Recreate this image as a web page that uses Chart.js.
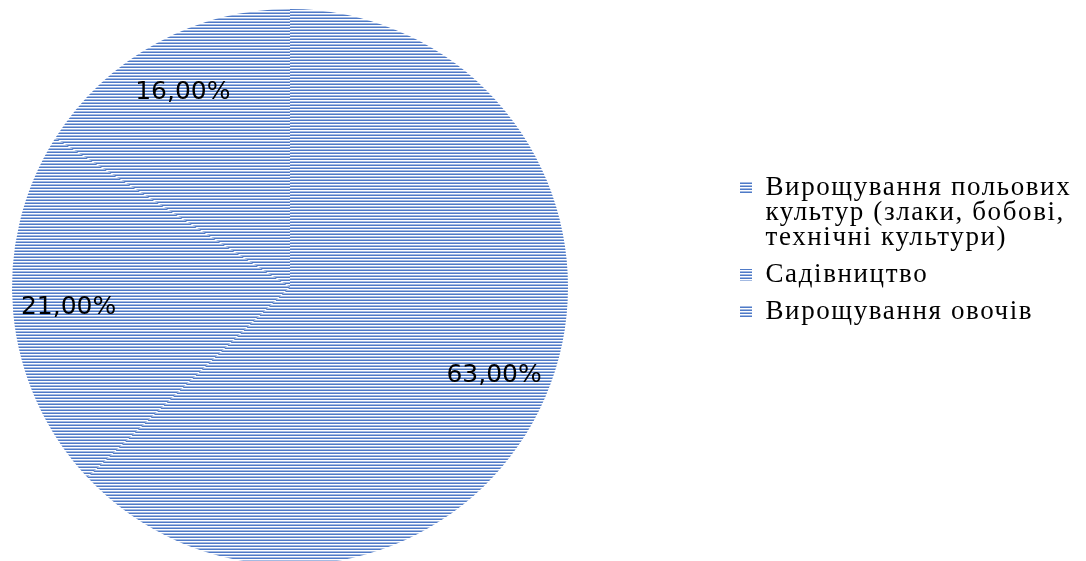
<!DOCTYPE html>
<html>
<head>
<meta charset="utf-8">
<script src="https://cdn.jsdelivr.net/npm/chart.js@4/dist/chart.umd.min.js"></script>
<style>
  html, body { margin: 0; padding: 0; overflow: hidden; background: #fff; }
  #wrap { width: 1086px; height: 566px; }
</style>
</head>
<body>
<div id="wrap"><canvas id="pie"></canvas></div>
<script>
// values
const categories = [
  ['Вирощування польових', 'культур (злаки, бобові,', 'технічні культури)'],
  ['Садівництво'],
  ['Вирощування овочів']
];
const shares = [63, 21, 16];

// striped fill, like the excel "narrow horizontal" pattern
function stripes(shift) {
  const c = document.createElement('canvas');
  c.width = 4; c.height = 3;
  const g = c.getContext('2d');
  const rows = ['#4f7ac7', '#ffffff', '#a3bae2'];
  for (let i = 0; i < 3; i++) {
    g.fillStyle = rows[(i + shift) % 3];
    g.fillRect(0, i, 4, 1);
  }
  return g.createPattern(c, 'repeat');
}
const fills = shares.map((v, i) => stripes(i));

// empty box between pie and legend, fixed legend width
const gap = {
  id: 'gap',
  beforeInit(chart) {
    Chart.layouts.addBox(chart, {
      position: 'right',
      weight: 0,
      fullSize: false,
      options: {},
      isHorizontal: () => false,
      update(maxWidth, maxHeight) { this.width = 160; this.height = maxHeight; },
      draw() {}
    });
  },
  afterInit(chart) {
    const lg = chart.legend;
    const fit = lg.fit.bind(lg);
    lg.fit = function () { fit(); this.width = 358; };
  },
  // legend text in the original is loosely tracked
  beforeDraw(chart) {
    chart.ctx.letterSpacing = '1.6px';
  }
};

const pctLabels = {
  id: 'pctLabels',
  afterDatasetsDraw(chart) {
    const ctx = chart.ctx;
    ctx.save();
    ctx.letterSpacing = '0px';
    ctx.font = '25px "DejaVu Sans"';
    ctx.fillStyle = '#000';
    ctx.textAlign = 'center';
    ctx.textBaseline = 'middle';
    chart.getDatasetMeta(0).data.forEach((arc, i) => {
      const p = arc.getProps(['x', 'y', 'startAngle', 'endAngle', 'outerRadius'], true);
      const mid = (p.startAngle + p.endAngle) / 2;
      const r = p.outerRadius * 0.8;
      const txt = shares[i].toFixed(2).replace('.', ',') + '%';
      ctx.fillText(txt, p.x + Math.cos(mid) * r, p.y + Math.sin(mid) * r);
    });
    ctx.restore();
  }
};

const pie = new Chart(document.getElementById('pie'), {
  type: 'pie',
  data: {
    labels: categories,
    datasets: [{
      data: shares,
      backgroundColor: fills,
      borderWidth: 0
    }]
  },
  options: {
    responsive: true,
    maintainAspectRatio: false,
    animation: false,
    layout: {
      padding: { left: 12, top: 9, right: 0, bottom: 1 }
    },
    plugins: {
      tooltip: { enabled: false },
      legend: {
        position: 'right',
        align: 'start',
        title: {
          display: true,
          text: '',
          font: { size: 10 },
          padding: { top: 0, bottom: 141.5 }
        },
        labels: {
          font: { family: '"Liberation Serif", serif', size: 27, lineHeight: 25 / 27 },
          color: '#000',
          boxWidth: 12,
          boxHeight: 12,
          padding: 12
        }
      }
    }
  },
  plugins: [gap, pctLabels]
});
</script>
</body>
</html>
